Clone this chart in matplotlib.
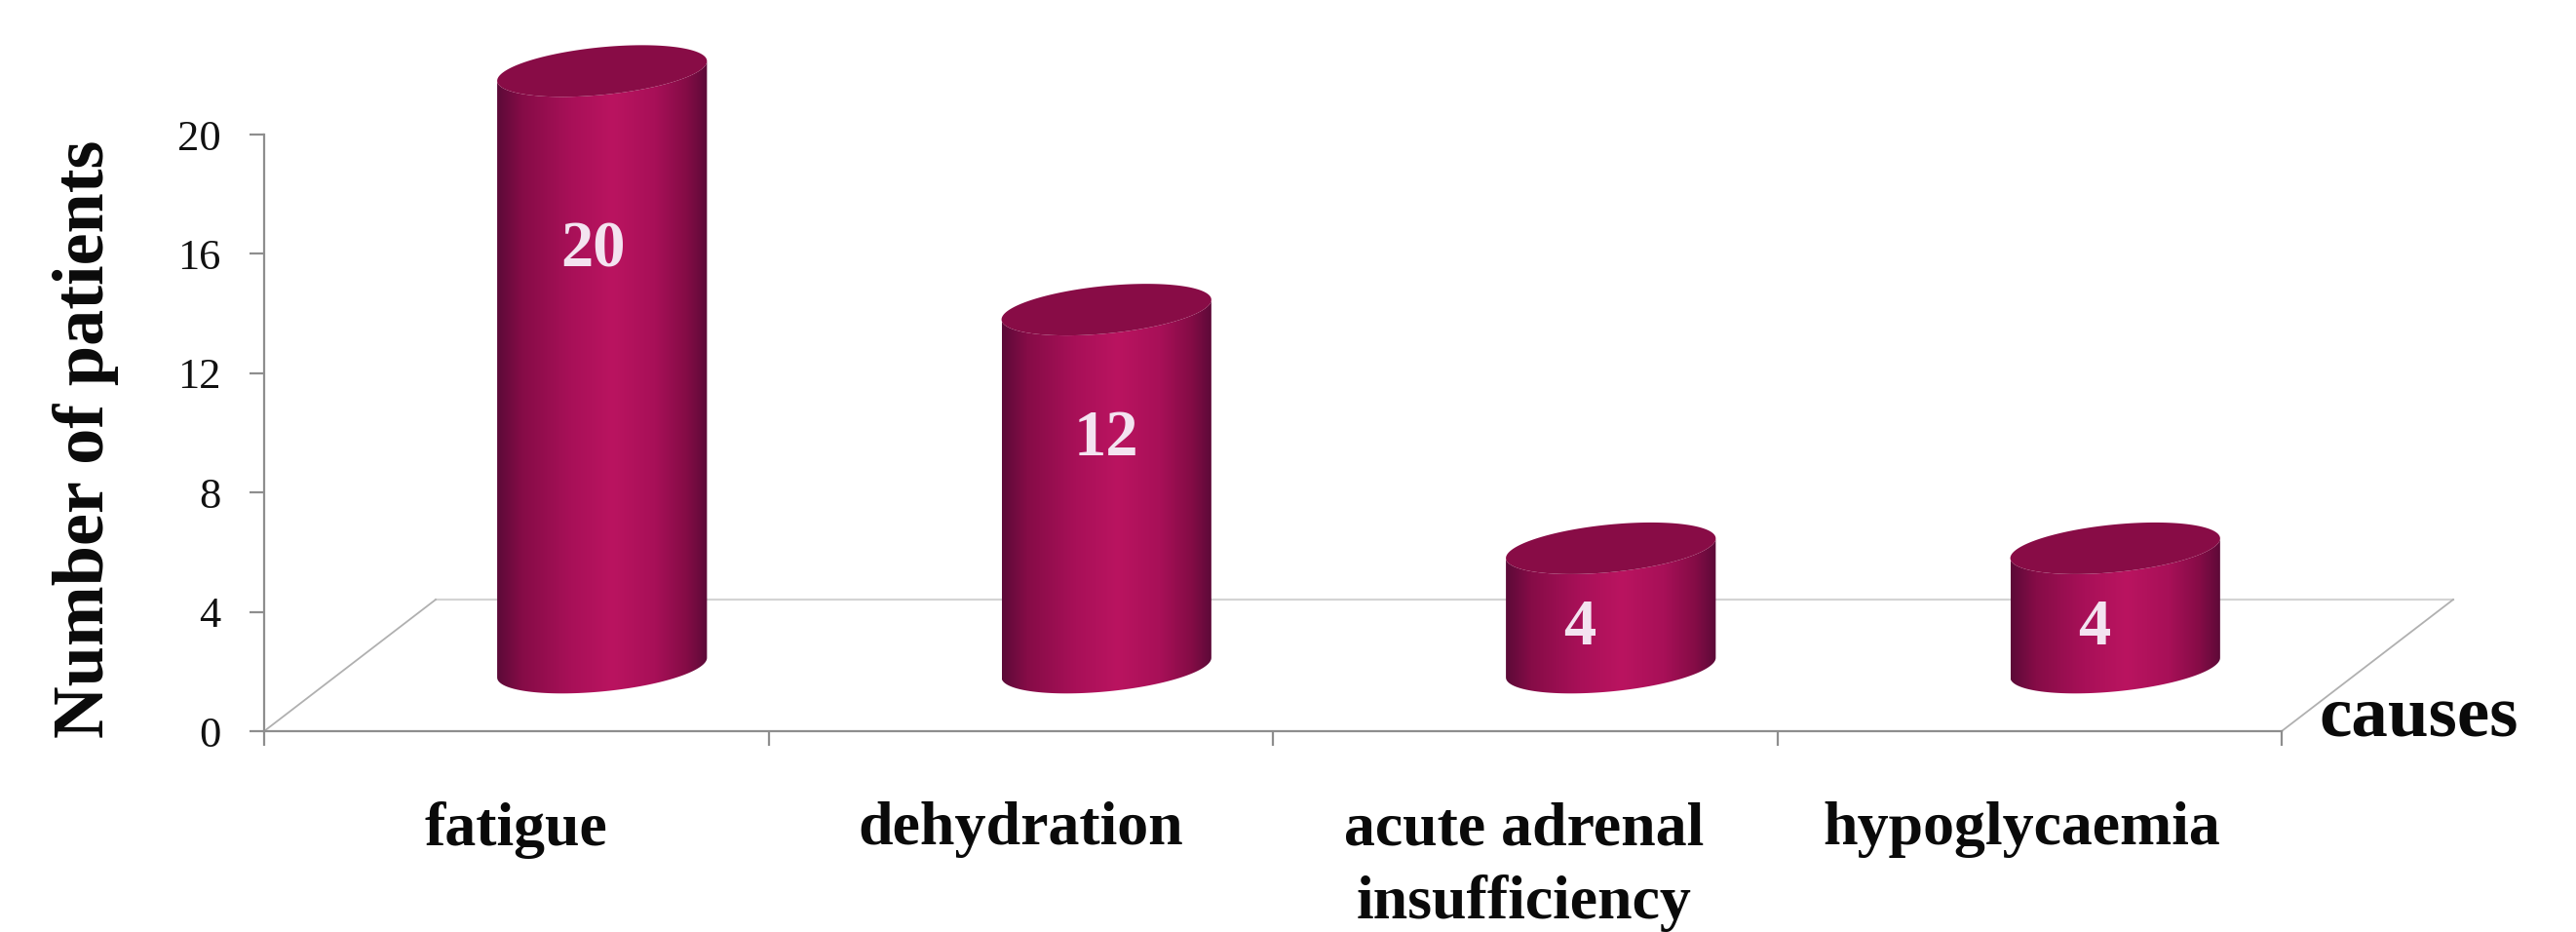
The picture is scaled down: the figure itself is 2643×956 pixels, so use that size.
import numpy as np
import matplotlib
matplotlib.use("Agg")
import matplotlib.pyplot as plt
from matplotlib.colors import LinearSegmentedColormap
from matplotlib.patches import PathPatch, Polygon
from matplotlib.path import Path

categories = ["fatigue", "dehydration", "acute adrenal\ninsufficiency", "hypoglycaemia"]
values = [20, 12, 4, 4]
y_ticks = [0, 4, 8, 12, 16, 20]
y_label = "Number of patients"
x_label = "causes"

plt.rcParams["font.family"] = ["Liberation Serif", "DejaVu Serif"]

W, H = 2643, 956
fig = plt.figure(figsize=(W / 100, H / 100), dpi=100, facecolor="white")
ax = fig.add_axes([271 / W, 1 - 750 / H, (2341 - 271) / W, (750 - 138) / H])
ax.set_facecolor("none")

AXIS = "#8e8e8e"
FLOOR = "#d4d4d4"
DEPTH_X, DEPTH_Y = 0.34, 4.41
BAR_OFF, BAR_BASE = 0.67, 2.13
A, B, K = 0.208, 0.8, 0.33

# Floor outline in pseudo-3D
ax.plot([DEPTH_X, 4 + DEPTH_X], [DEPTH_Y, DEPTH_Y], color=FLOOR, lw=1.6, clip_on=False, zorder=1)
ax.plot([0, DEPTH_X], [0, DEPTH_Y], color="#b0b0b0", lw=1.3, clip_on=False, zorder=1)
ax.plot([4, 4 + DEPTH_X], [0, DEPTH_Y], color="#b0b0b0", lw=1.3, clip_on=False, zorder=1)

cmap = LinearSegmentedColormap.from_list(
    "cyl",
    [(0, "#5c0a38"), (0.12, "#860c47"), (0.35, "#a81058"), (0.55, "#ba1460"),
     (0.75, "#a81058"), (0.9, "#850c46"), (1, "#5c0a38")],
)


def ring(cx, cy, t):
    return np.column_stack([cx + A * np.cos(t), cy + B * np.sin(t) + K * np.cos(t)])


for i, v in enumerate(values):
    cx = i + BAR_OFF
    base, top = BAR_BASE, BAR_BASE + v
    lower = ring(cx, base, np.linspace(np.pi, 2 * np.pi, 80))
    front_top = ring(cx, top, np.linspace(2 * np.pi, np.pi, 80))
    body = np.vstack([lower, front_top])
    im = ax.imshow(np.linspace(0, 1, 256)[None, :], cmap=cmap, aspect="auto",
                   extent=[cx - A, cx + A, base - 2, top + 2], zorder=3,
                   interpolation="bilinear")
    im.set_clip_path(PathPatch(Path(np.vstack([body, body[:1]]), closed=True), transform=ax.transData))
    im.set_clip_box(fig.bbox)
    cap = ring(cx, top, np.linspace(0, 2 * np.pi, 160))
    ax.add_patch(Polygon(cap, closed=True, facecolor="#880c46", edgecolor="none",
                         zorder=4, clip_on=False))

label_dx = [-0.018, 0.0, -0.062, -0.042]
for i, v in enumerate(values):
    ax.text(i + BAR_OFF + label_dx[i], 0.3 + 0.79 * v, str(v), color="#f3e3f0", fontsize=48,
            fontweight="bold", ha="center", va="center", zorder=5)

ax.set_xlim(0, 4)
ax.set_ylim(0, 20)
for s in ("top", "right"):
    ax.spines[s].set_visible(False)
for s in ("left", "bottom"):
    ax.spines[s].set_color(AXIS)
    ax.spines[s].set_linewidth(1.6)

ax.set_yticks(y_ticks)
ax.tick_params(axis="y", length=11, width=1.6, color=AXIS, labelsize=32, pad=21, labelcolor="#111111")
ax.set_xticks(range(5))
ax.set_xticklabels([])
ax.tick_params(axis="x", which="major", length=11, width=1.6, color=AXIS)
label_shift = [0.0, 0.0, -0.003, -0.015]
ax.set_xticks(np.arange(len(categories)) + 0.5 + np.array(label_shift), minor=True)
ax.set_xticklabels(categories, minor=True, fontsize=46, fontweight="bold", linespacing=1.37, color="#0a0a0a")
ax.tick_params(axis="x", which="minor", length=0, pad=52)

fig.text(88 / W, 1 - 450 / H, y_label, rotation=90, fontsize=53.5, fontweight="bold",
         ha="center", va="center", color="#0a0a0a")
fig.text(2482 / W, 1 - 738 / H, x_label, fontsize=54, fontweight="bold",
         ha="center", va="center", color="#0a0a0a")

fig.savefig("out.png", dpi=100, facecolor="white")
